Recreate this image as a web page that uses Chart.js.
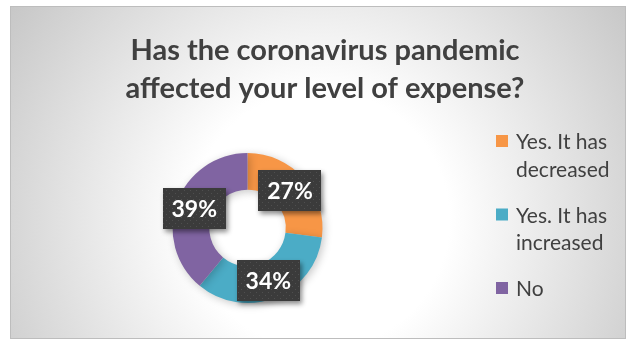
<!DOCTYPE html>
<html>
<head>
<meta charset="utf-8">
<script src="https://cdn.jsdelivr.net/npm/chart.js@4"></script>
<style>
    html, body { margin: 0; padding: 0; background: #fff; }
    #wrap { position: relative; width: 628px; height: 342px; }
</style>
</head>
<body>
<div id="wrap"><canvas id="graficoDespesa" width="628" height="342"></canvas></div>
<script>
// respostas da pesquisa
const titleLines = ["Has the coronavirus pandemic", "affected your level of expense?"];
const categories = ["Yes. It has decreased", "Yes. It has increased", "No"];
const legendLines = [["Yes. It has", "decreased"], ["Yes. It has", "increased"], ["No"]];
const shares = [27, 34, 39];
const sliceColors = ["#F79646", "#4BACC6", "#8064A2"];

// fundo com gradiente radial e moldura
const fundo = {
    id: "fundo",
    beforeDraw(chart) {
        const ctx = chart.ctx;
        ctx.save();
        const g = ctx.createRadialGradient(320, 220, 0, 320, 220, 380);
        g.addColorStop(0, "#ffffff");
        g.addColorStop(0.34, "#ffffff");
        g.addColorStop(1, "#c6c6c6");
        ctx.fillStyle = g;
        ctx.fillRect(11, 7, 614, 331);
        ctx.strokeStyle = "#bdbdbd";
        ctx.lineWidth = 1;
        ctx.strokeRect(10.5, 6.5, 615, 332);
        ctx.restore();
    }
};

// sombra leve atrás da rosca
const sombra = {
    id: "sombra",
    beforeDatasetsDraw(chart) {
        const ctx = chart.ctx;
        ctx.save();
        ctx.shadowColor = "rgba(0,0,0,0.22)";
        ctx.shadowBlur = 8;
        ctx.shadowOffsetX = 2;
        ctx.shadowOffsetY = 2;
    },
    afterDatasetsDraw(chart) {
        chart.ctx.restore();
    }
};

function criarPadrao(ctx) {
    const c = document.createElement("canvas");
    c.width = 6; c.height = 6;
    const p = c.getContext("2d");
    p.fillStyle = "#3b3b3b";
    p.fillRect(0, 0, 6, 6);
    p.fillStyle = "#4f4f4f";
    p.fillRect(1, 1, 1, 1);
    p.fillRect(4, 4, 1, 1);
    return ctx.createPattern(c, "repeat");
}

// título, rótulos de porcentagem e legenda
const textos = {
    id: "textos",
    afterDraw(chart) {
        const ctx = chart.ctx;
        ctx.save();

        // título
        ctx.fillStyle = "#404040";
        ctx.font = "bold 29px Lato";
        ctx.textAlign = "center";
        ctx.textBaseline = "alphabetic";
        titleLines.forEach((t, i) => ctx.fillText(t, 325, 60 + i * 38));

        // rótulos nas fatias
        const padrao = criarPadrao(ctx);
        const meta = chart.getDatasetMeta(0);
        meta.data.forEach((arc, i) => {
            const pos = arc.tooltipPosition();
            const w = 63, h = 41;
            const x = Math.round(pos.x - w / 2), y = Math.round(pos.y - h / 2);
            ctx.save();
            ctx.shadowColor = "rgba(0,0,0,0.45)";
            ctx.shadowBlur = 5;
            ctx.shadowOffsetX = 2;
            ctx.shadowOffsetY = 3;
            ctx.fillStyle = padrao;
            ctx.fillRect(x, y, w, h);
            ctx.restore();
            ctx.fillStyle = "#ffffff";
            ctx.font = "bold 23px Lato";
            ctx.textAlign = "center";
            ctx.textBaseline = "middle";
            ctx.fillText(shares[i] + "%", pos.x, pos.y + 1);
        });

        // legenda
        ctx.textAlign = "left";
        ctx.textBaseline = "alphabetic";
        ctx.font = "21px Lato";
        let base = 149;
        legendLines.forEach((linhas, i) => {
            ctx.fillStyle = sliceColors[i];
            ctx.fillRect(496, base - 14, 12, 12);
            ctx.fillStyle = "#404040";
            linhas.forEach((l, j) => ctx.fillText(l, 516, base + j * 27.5));
            base += linhas.length * 27.5 + 18.5;
        });

        ctx.restore();
    }
};

const ctx = document.getElementById("graficoDespesa").getContext("2d");

new Chart(ctx, {
    type: "doughnut",
    data: {
        labels: categories,
        datasets: [{
            data: shares,
            backgroundColor: sliceColors,
            borderWidth: 0,
            hoverOffset: 0
        }]
    },
    options: {
        responsive: false,
        animation: false,
        cutout: "51%",
        layout: {
            padding: { left: 172, right: 305, top: 153, bottom: 39 }
        },
        plugins: {
            legend: { display: false },
            title: { display: false },
            tooltip: { enabled: false }
        }
    },
    plugins: [fundo, sombra, textos]
});
</script>
</body>
</html>
